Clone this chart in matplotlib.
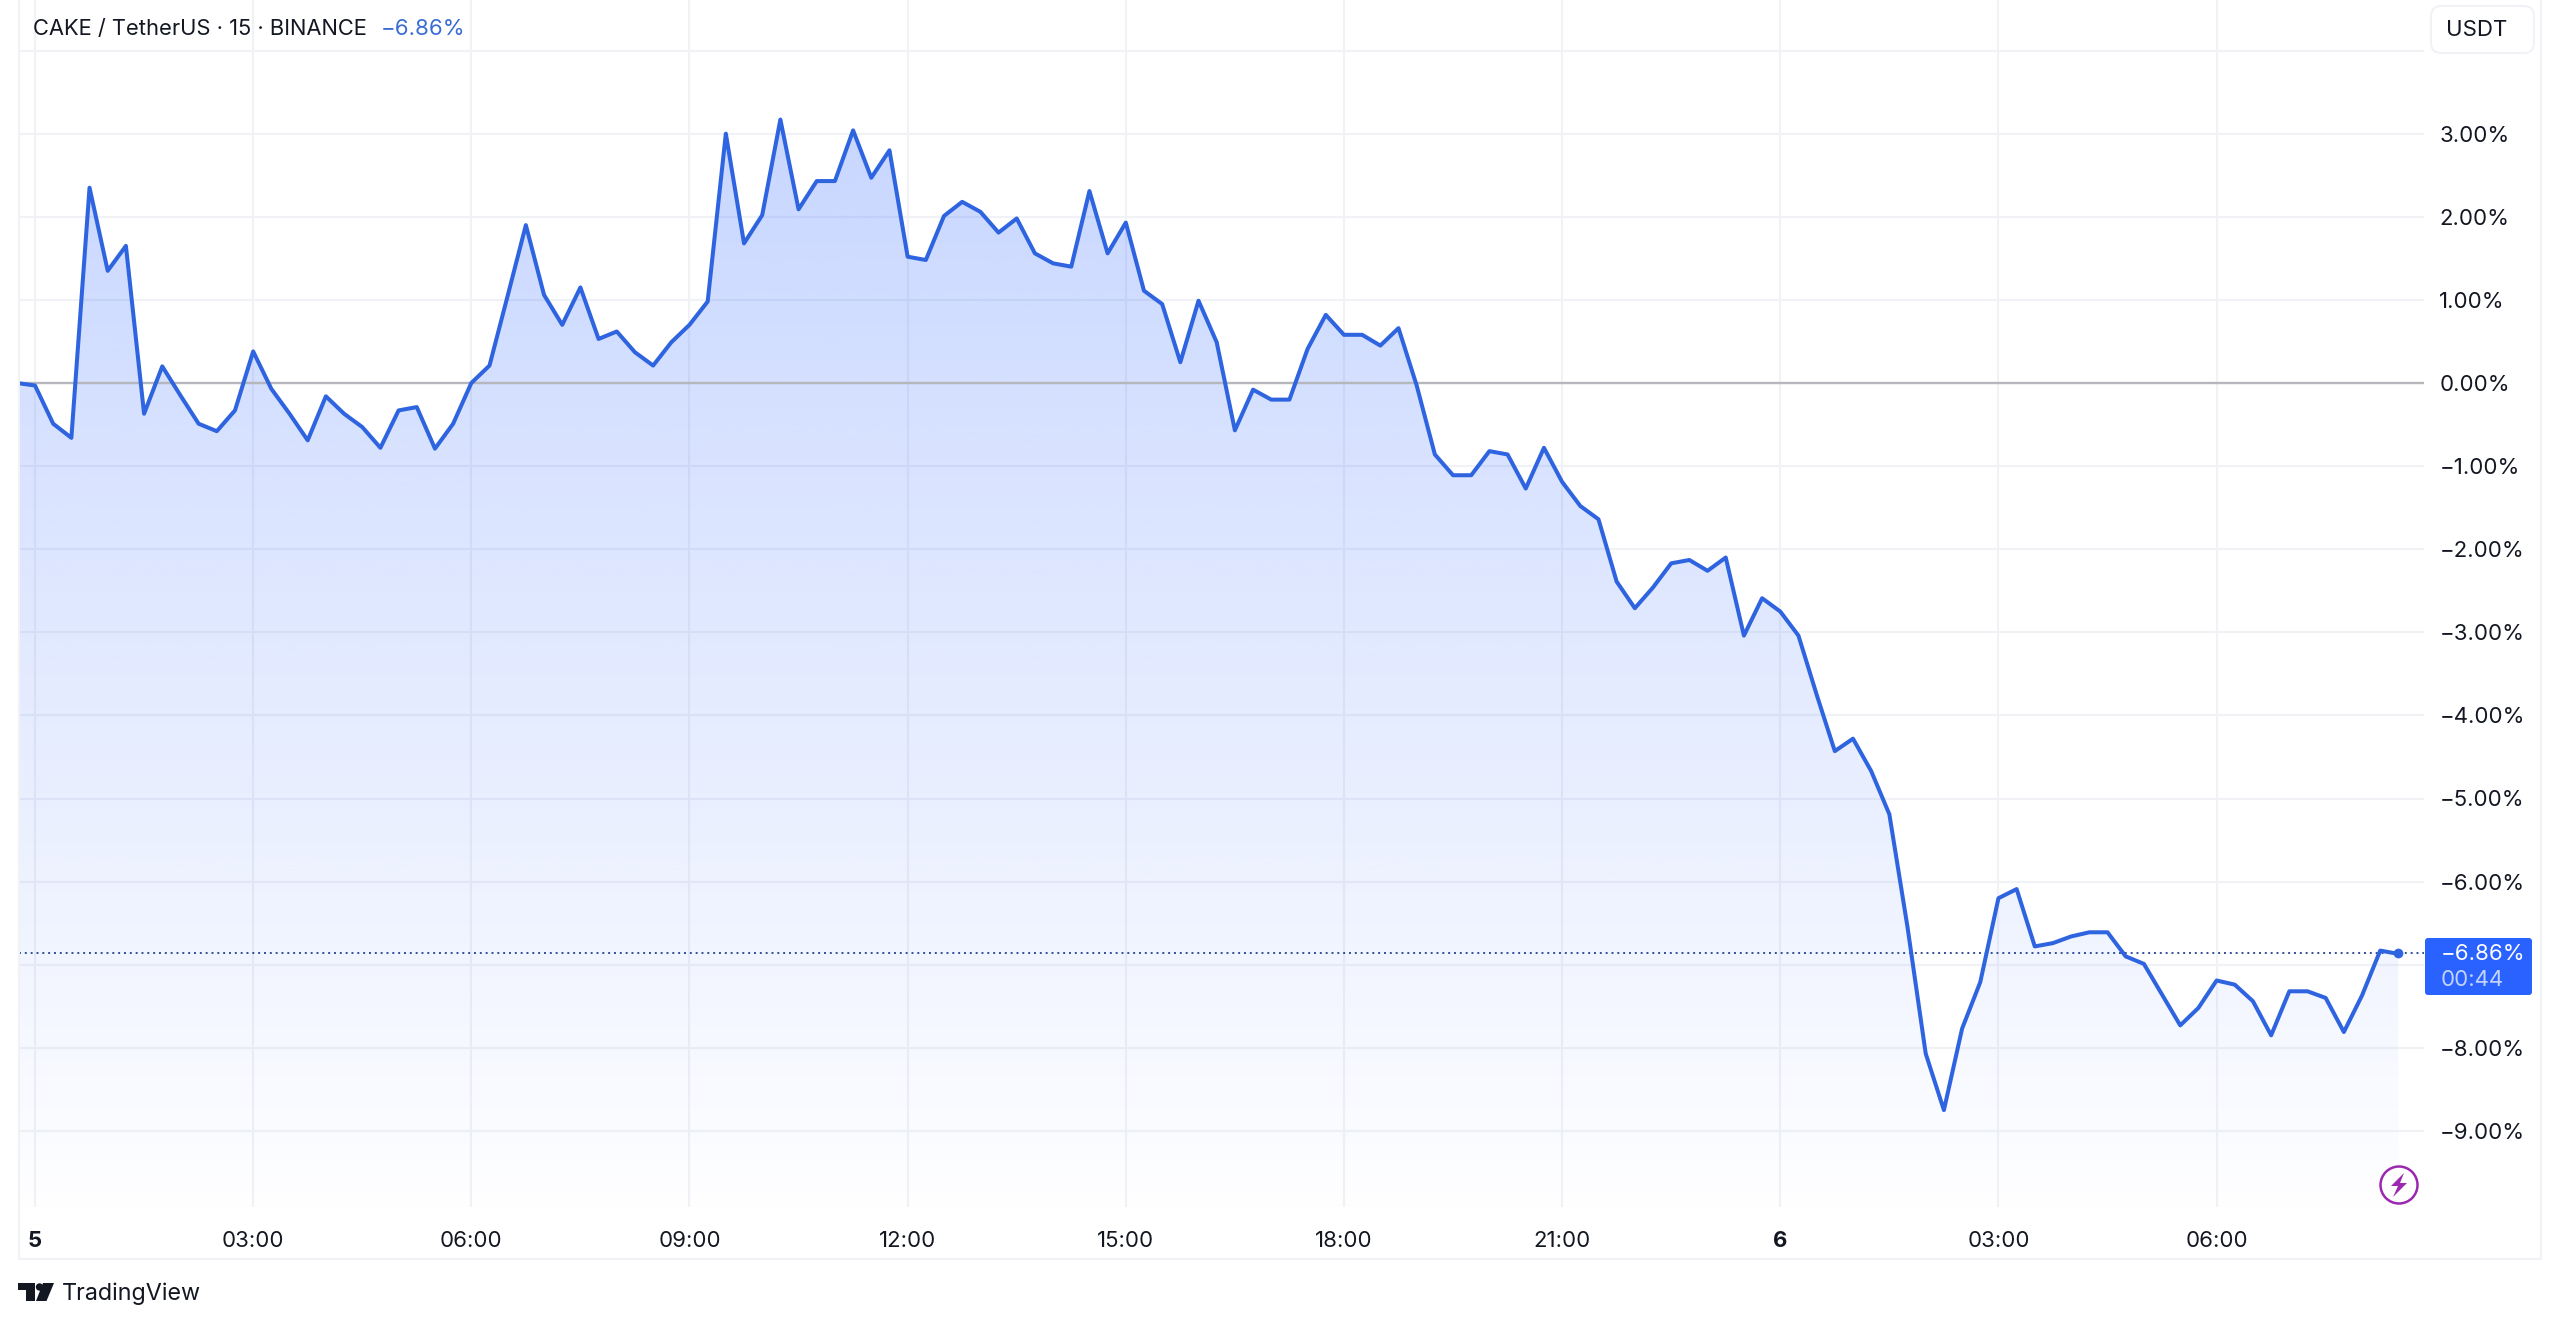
import numpy as np
import matplotlib
matplotlib.use("Agg")
import matplotlib.pyplot as plt
from matplotlib.patches import Polygon, Circle, FancyBboxPatch

plt.rcParams['font.family'] = ['Inter', 'DejaVu Sans']

# ---- data ----
bar_index = list(range(-1, 131))   # 15-minute bars, 0 = midnight of the 5th
change_pct = [
    0.00, -0.03, -0.49, -0.66, 2.35, 1.35, 1.65, -0.37, 0.20, -0.15, -0.49, -0.58,
    -0.33, 0.38, -0.07, -0.37, -0.69, -0.16, -0.37, -0.53, -0.78, -0.33, -0.29, -0.79,
    -0.49, 0.00, 0.21, 1.05, 1.90, 1.06, 0.70, 1.15, 0.53, 0.62, 0.37, 0.21,
    0.49, 0.70, 0.98, 3.00, 1.68, 2.02, 3.17, 2.09, 2.43, 2.43, 3.04, 2.47,
    2.80, 1.52, 1.48, 2.01, 2.18, 2.06, 1.81, 1.98, 1.56, 1.44, 1.40, 2.31,
    1.56, 1.93, 1.11, 0.95, 0.25, 0.99, 0.49, -0.57, -0.08, -0.20, -0.20, 0.41,
    0.82, 0.58, 0.58, 0.45, 0.66, -0.03, -0.86, -1.11, -1.11, -0.82, -0.86, -1.27,
    -0.78, -1.19, -1.48, -1.64, -2.39, -2.71, -2.46, -2.17, -2.13, -2.26, -2.10, -3.04,
    -2.59, -2.75, -3.04, -3.75, -4.43, -4.28, -4.67, -5.19, -6.55, -8.07, -8.75, -7.77,
    -7.21, -6.20, -6.09, -6.78, -6.74, -6.66, -6.61, -6.61, -6.90, -6.99, -7.36, -7.73,
    -7.52, -7.19, -7.24, -7.44, -7.85, -7.32, -7.32, -7.40, -7.81, -7.37, -6.83, -6.87,
]
y_ticks = [3, 2, 1, 0, -1, -2, -3, -4, -5, -6, -8, -9]
y_grid = [4, 3, 2, 1, 0, -1, -2, -3, -4, -5, -6, -7, -8, -9]
x_ticks = [0, 12, 24, 36, 48, 60, 72, 84, 96, 108, 120]
x_labels = ['5', '03:00', '06:00', '09:00', '12:00', '15:00', '18:00', '21:00', '6', '03:00', '06:00']
bold_labels = ['5', '6']
last_value = -6.86
header_text = 'CAKE / TetherUS · 15 · BINANCE'
header_change = '−6.86%'
countdown = '00:44'

LINE = '#2f64e0'
BLUE = '#2962ff'
GRID = '#f1f2f6'
TEXT = '#131722'

W, H = 2560, 1322
fig = plt.figure(figsize=(W / 100, H / 100), dpi=100, facecolor='white')

# pane: 19..2424 px wide, 0..1207 px tall
ax = fig.add_axes([19 / W, (H - 1207) / H, (2424 - 19) / W, 1207 / H])
xlim = ((19 - 35) / 18.18, (2424 - 35) / 18.18)
ylim = ((383 - 1207) / 83.1, 383 / 83.1)
ax.set_xlim(*xlim)
ax.set_ylim(*ylim)
for s in ax.spines.values():
    s.set_visible(False)

# grid
for v in y_grid:
    ax.axhline(v, color=GRID, lw=1.5, zorder=1)
for v in x_ticks:
    ax.axvline(v, color=GRID, lw=1.5, zorder=1)

# gradient area
xs = np.array(bar_index, float)
ys = np.array(change_pct, float)
y0, y1 = ax.get_ylim()
poly = ax.fill_between(xs, ys, y0, facecolor='none', edgecolor='none', zorder=2)
top = ys.max()
n = 256
alpha = np.linspace(0.26, 0.005, n).reshape(-1, 1)
rgba = np.zeros((n, 1, 4))
rgba[..., 0] = 41 / 255
rgba[..., 1] = 98 / 255
rgba[..., 2] = 1.0
rgba[..., 3] = alpha
im = ax.imshow(rgba, extent=[xs[0], xs[-1], y0, top], origin='upper', aspect='auto',
               zorder=2, interpolation='bilinear')
im.set_clip_path(poly.get_paths()[0], transform=ax.transData)
ax.set_xlim(*xlim)
ax.set_ylim(*ylim)

# reference lines
ax.axhline(0, color='#b6b7bd', lw=1.7, zorder=3)
ax.axhline(last_value, color='#2f4f96', lw=1.4, ls=(0, (1, 2.0)), zorder=3)

# series
ax.plot(xs, ys, color=LINE, lw=2.9, zorder=4, solid_joinstyle='round')
ax.plot([xs[-1]], [last_value], 'o', color=LINE, ms=7, mew=0, zorder=5)

# axes ticks
ax.yaxis.tick_right()
ax.set_yticks(y_ticks)
ax.set_yticklabels([f'{v:.2f}%'.replace('-', '−') for v in y_ticks], fontsize=16, color=TEXT)
ax.set_xticks(x_ticks)
ax.set_xticklabels(x_labels, fontsize=16, color=TEXT)
ax.tick_params(axis='y', length=0, pad=11)
ax.tick_params(axis='x', length=0, pad=17)
for t in ax.get_xticklabels():
    if t.get_text() in bold_labels:
        t.set_fontweight('bold')

# chrome overlay in pixel coordinates
ov = fig.add_axes([0, 0, 1, 1], facecolor='none')
ov.set_xlim(0, W)
ov.set_ylim(H, 0)
ov.axis('off')

# outer border
ov.plot([19, 19, 2541, 2541], [0, 1259, 1259, 0], color=GRID, lw=1.5)

# header
ov.text(33, 29, header_text, fontsize=15.8, color=TEXT, va='center', ha='left')
ov.text(381, 29, header_change, fontsize=16, color='#3a6cd6', va='center', ha='left')

# USDT button
ov.add_patch(FancyBboxPatch((2431 + 10, 6 + 10), 103 - 20, 47 - 20,
                            boxstyle='round,pad=10,rounding_size=10',
                            fc='white', ec=GRID, lw=1.5))
ov.text(2477, 30, 'USDT', fontsize=16, color=TEXT, va='center', ha='center')

# last value tag
ov.add_patch(FancyBboxPatch((2425 + 3, 938 + 3), 107 - 6, 57 - 6,
                            boxstyle='round,pad=3,rounding_size=3',
                            fc=BLUE, ec='none'))
ov.text(2441, 954, header_change, fontsize=16, color='white', va='center', ha='left')
ov.text(2441, 980, countdown, fontsize=16, color='#c3d2f8', va='center', ha='left')

# lightning icon
ov.add_patch(Circle((2399, 1185), 18.5, fc='white', ec='#9c27b0', lw=1.8))
ov.add_patch(Polygon([(2404, 1173), (2391, 1186), (2398, 1186), (2393, 1197),
                      (2407, 1183), (2400, 1183)], closed=True, fc='#9c27b0', ec='none'))

# TradingView logo
ov.add_patch(Polygon([(18, 1283), (35, 1283), (35, 1301), (26, 1301), (26, 1290), (18, 1290)],
                     closed=True, fc=TEXT, ec='none'))
ov.add_patch(Circle((39.5, 1287), 3.7, fc=TEXT, ec='none'))
ov.add_patch(Polygon([(43, 1283), (54, 1283), (46.5, 1301), (36, 1301)], closed=True, fc=TEXT, ec='none'))
ov.text(62, 1294, 'TradingView', fontsize=16.8, color=TEXT, va='center', ha='left')

fig.savefig('out.png', dpi=100)
